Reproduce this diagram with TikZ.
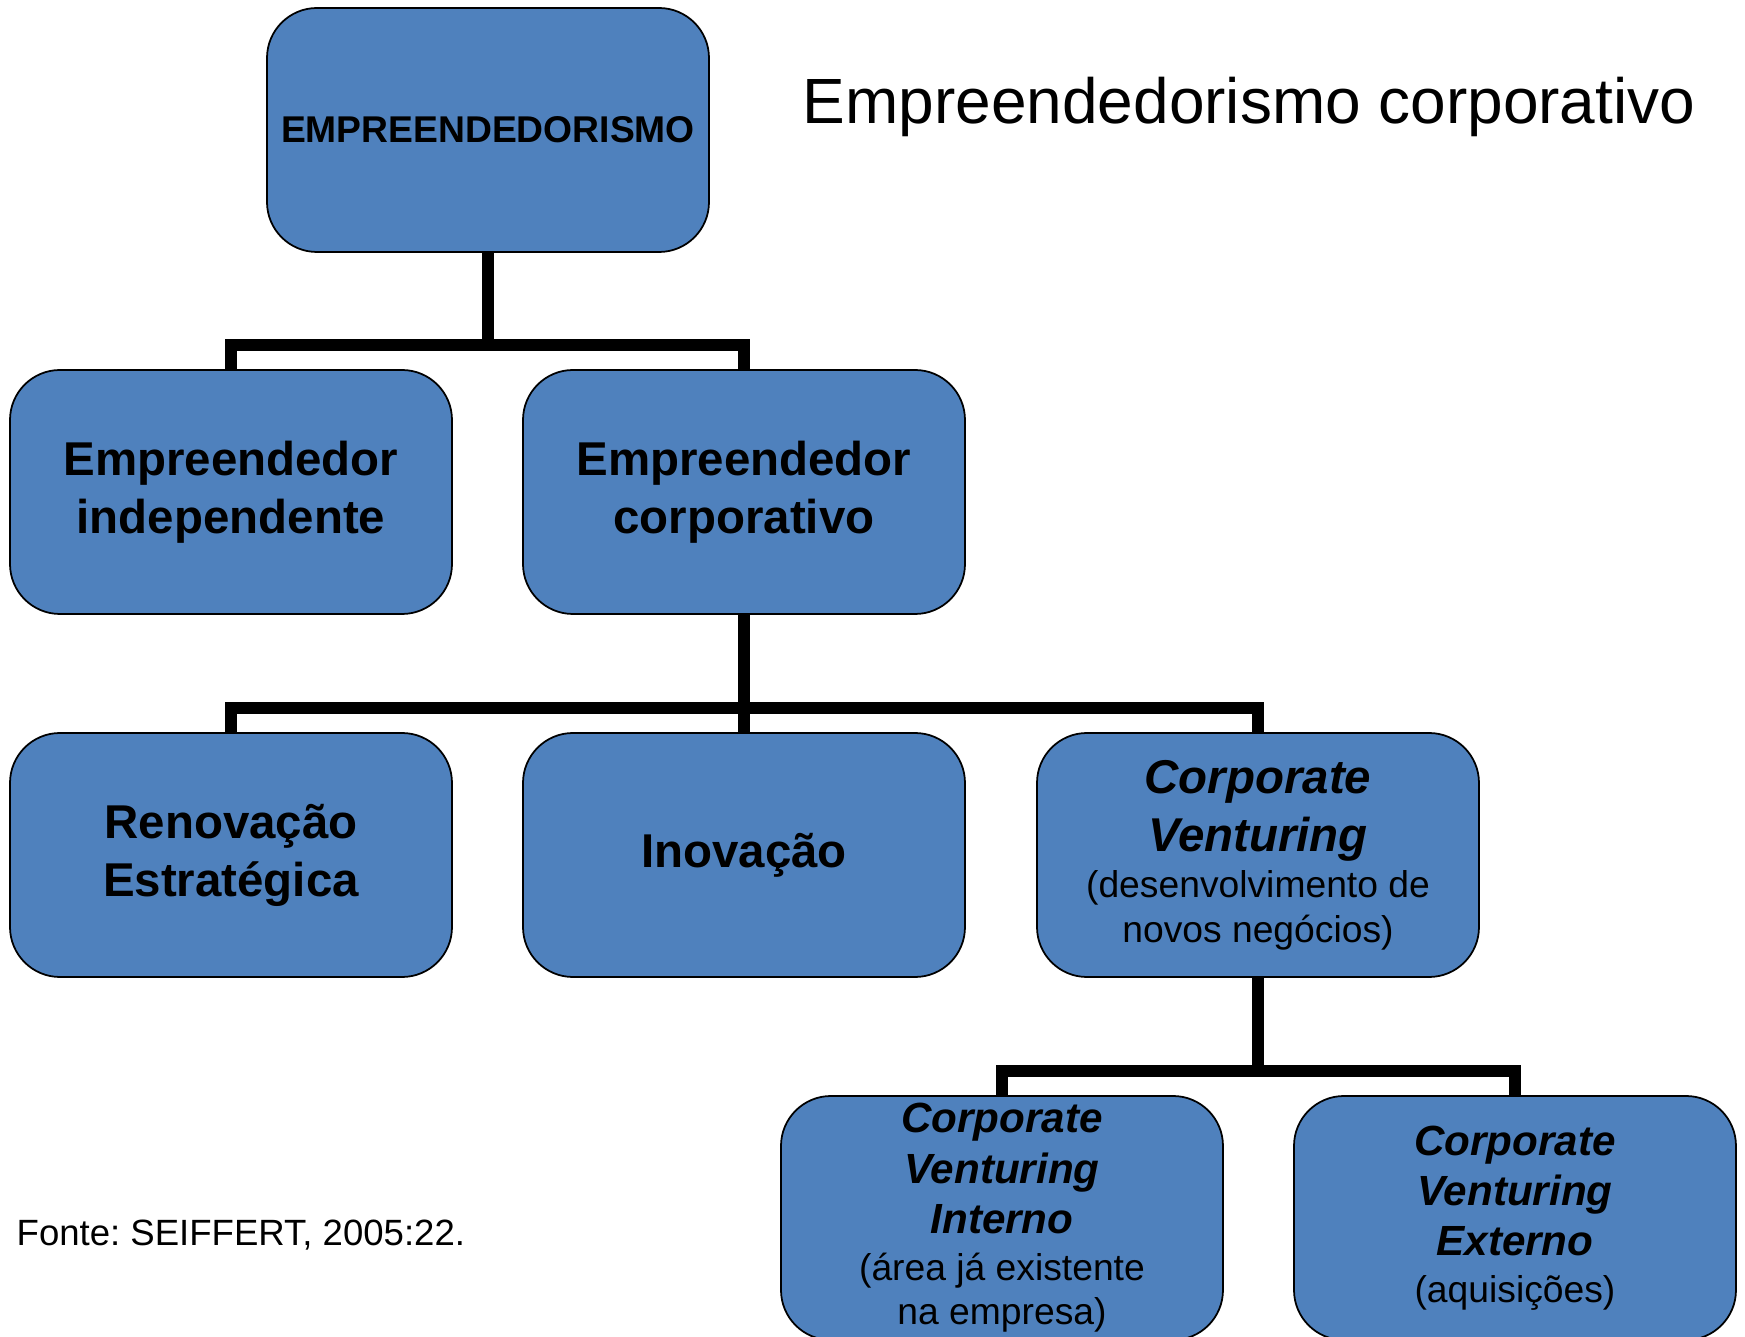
\documentclass[tikz,border=0pt]{standalone}
\usepackage{fontspec}
\setmainfont{Liberation Sans}
\definecolor{azulcaixa}{RGB}{79,129,189}
\newcommand{\obs}[1]{{\mdseries\upshape\fontsize{10.6}{12.7}\selectfont #1}}
\begin{document}
\frenchspacing
\begin{tikzpicture}[
	caixa/.style={draw=black, line width=0.5pt, fill=azulcaixa, rounded corners=0.5cm,
		minimum width=4.42cm, minimum height=2.44cm, inner sep=0pt, align=center,
		font=\bfseries\fontsize{13.5}{16.5}\selectfont},
	caixacv/.style={caixa, font=\bfseries\itshape\fontsize{12}{14.3}\selectfont},
	ligacao/.style={line width=0.12cm}
]
	\useasboundingbox (0,0) rectangle (17.45,-13.37);

	\node[caixa, font=\bfseries\fontsize{10.6}{12.7}\selectfont] (raiz) at (4.88,-1.30) {EMPREENDEDORISMO};
	\node[font=\fontsize{18.2}{22}\selectfont] (titulo) at (12.49,-1.07) {Empreendedorismo corporativo};

	\node[caixa] (indep) at (2.31,-4.92) {Empreendedor\\independente};
	\node[caixa] (corpo) at (7.44,-4.92) {Empreendedor\\corporativo};

	\node[caixa] (renov) at (2.31,-8.55) {Renovação\\Estratégica};
	\node[caixa] (inov) at (7.44,-8.55) {Inovação};
	\node[caixa] (cv) at (12.58,-8.55) {\textit{Corporate}\\\textit{Venturing}\\[-3.2pt]\obs{(desenvolvimento de}\\[-3.8pt]\obs{novos negócios)}};

	\node[caixacv] (cvint) at (10.02,-12.18) {Corporate\\Venturing\\Interno\\[-1pt]\obs{(área já existente}\\[-1.6pt]\obs{na empresa)}};
	\node[caixacv] (cvext) at (15.15,-12.18) {Corporate\\Venturing\\Externo\\[-1pt]\obs{(aquisições)}};

	\node[anchor=west, inner sep=0pt, font=\fontsize{10.4}{12.5}\selectfont] (fonte) at (0.16,-12.35) {Fonte: SEIFFERT, 2005:22.};

	\coordinate (barra1) at (4.88,-3.45);
	\coordinate (barra2) at (7.44,-7.08);
	\coordinate (barra3) at (12.58,-10.71);

	\draw[ligacao] (raiz.south) -- (barra1);
	\draw[ligacao] (indep.north) |- (barra1) -| (corpo.north);

	\draw[ligacao] (corpo.south) -- (barra2) -- (inov.north);
	\draw[ligacao] (renov.north) |- (barra2) -| (cv.north);

	\draw[ligacao] (cv.south) -- (barra3);
	\draw[ligacao] (cvint.north) |- (barra3) -| (cvext.north);
\end{tikzpicture}
\end{document}
